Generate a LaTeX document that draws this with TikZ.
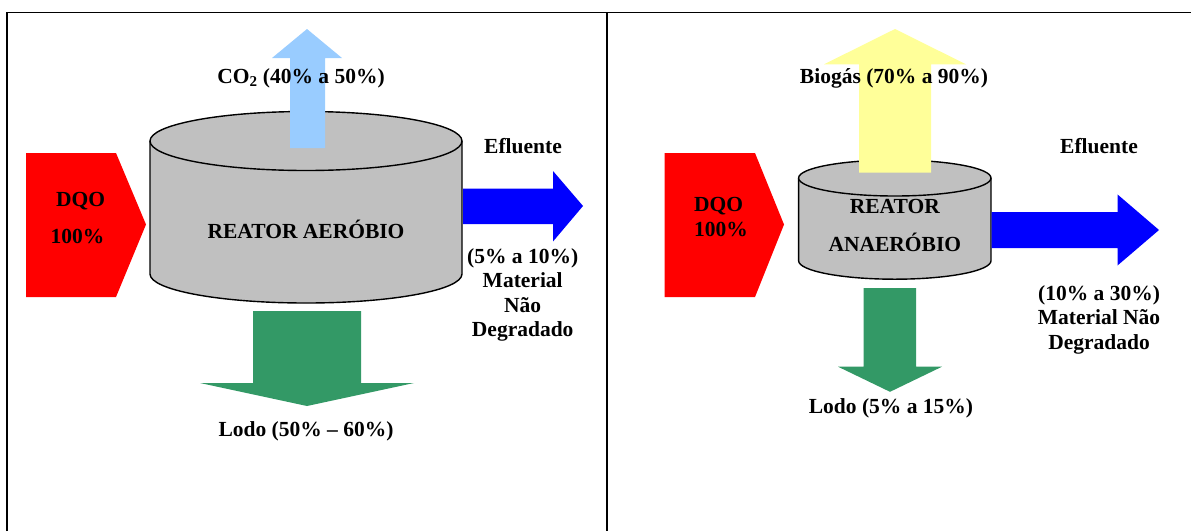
\documentclass[tikz,border=0pt]{standalone}
\usepackage{fontspec}
\setmainfont{Liberation Serif}
\definecolor{dqored}{HTML}{FF0000}
\definecolor{efblue}{HTML}{0000FF}
\definecolor{lodogreen}{HTML}{339966}
\definecolor{gasblue}{HTML}{99CCFF}
\definecolor{gasyellow}{HTML}{FFFF99}
\definecolor{tankgray}{HTML}{C0C0C0}
\tikzset{
  lbl/.style={font=\bfseries\fontsize{21.5}{24}\selectfont, anchor=base, inner sep=0pt, text=black},
  flow/.style={draw=none},
  tank/.style={draw=black, line width=1.4pt, fill=tankgray},
  frame/.style={draw=black, line width=1.5pt}
}
\begin{document}
\begin{tikzpicture}[x=1pt, y=-1pt]
\useasboundingbox (0,0) rectangle (1191,531);

% outer frame and panel divider
\draw[frame] (7,531) -- (7,12.5) -- (1191,12.5);
\draw[frame] (607,12.5) -- (607,531);

% ---------------- aerobic reactor ----------------
% inflow (DQO)
\fill[dqored] (26,153) -- (116,153) -- (146,224.5) -- (116,297) -- (26,297) -- cycle;
% tank body
\coordinate (tankA) at (306,141);
\fill[tankgray] (150,141) -- (150,274) arc[start angle=180, end angle=360, x radius=156pt, y radius=29pt] -- (462,141) -- cycle;
\draw[tank, fill=none] (150,141) -- (150,274) arc[start angle=180, end angle=360, x radius=156pt, y radius=29pt] -- (462,141);
\draw[tank] (tankA) ellipse[x radius=156pt, y radius=29.5pt];
% gas (CO2) outlet
\fill[gasblue] (290,148) -- (290,58) -- (272,58) -- (307,29) -- (342,58) -- (325,58) -- (325,148) -- cycle;
% effluent
\fill[efblue] (463,188.6) -- (553,188.6) -- (553,171) -- (583,206) -- (553,241.5) -- (553,224) -- (463,224) -- cycle;
% sludge
\fill[lodogreen] (253,311) -- (361,311) -- (361,383) -- (414,383) -- (307,406) -- (200,383) -- (253,383) -- cycle;

\node[lbl] (dqoA) at (80.5,206.5) {DQO};
\node[lbl] (pctA) at (77.5,243) {100\%};
\node[lbl] (reatA) at (306,238.7) {REATOR AERÓBIO};
\node[lbl] (co2) at (301,83.6) {CO\textsubscript{2} (40\% a 50\%)};
\node[lbl] (efA) at (523,153) {Efluente};
\node[lbl] (efA1) at (522.7,263.5) {(5\% a 10\%)};
\node[lbl] (efA2) at (522.7,287.5) {Material};
\node[lbl] (efA3) at (522.7,312) {Não};
\node[lbl] (efA4) at (522.7,336.5) {Degradado};
\node[lbl] (lodoA) at (306,436) {Lodo (50\% -- 60\%)};

% ---------------- anaerobic reactor ----------------
\fill[dqored] (664.5,153) -- (755,153) -- (784,224.5) -- (755,297) -- (664.5,297) -- cycle;
\coordinate (tankB) at (894.8,178);
\fill[tankgray] (798.6,178) -- (798.6,260.7) arc[start angle=180, end angle=360, x radius=96.2pt, y radius=18.5pt] -- (991,178) -- cycle;
\draw[tank, fill=none] (798.6,178) -- (798.6,260.7) arc[start angle=180, end angle=360, x radius=96.2pt, y radius=18.5pt] -- (991,178);
\draw[tank] (tankB) ellipse[x radius=96.2pt, y radius=18pt];
% biogas outlet
\fill[gasyellow] (859,172.7) -- (859,64.3) -- (824,64.3) -- (895,29) -- (966,64.3) -- (931,64.3) -- (931,172.7) -- cycle;
% effluent
\fill[efblue] (991.5,212) -- (1117.5,212) -- (1117.5,194.4) -- (1159,230) -- (1117.5,265.5) -- (1117.5,248) -- (991.5,248) -- cycle;
% sludge
\fill[lodogreen] (863.5,288) -- (916,288) -- (916,366.7) -- (942,366.7) -- (890,391.8) -- (838,366.7) -- (863.5,366.7) -- cycle;

\node[lbl] (dqoB) at (718.7,211) {DQO};
\node[lbl] (pctB) at (721,236.2) {100\%};
\node[lbl] (reatB1) at (894.8,213.3) {REATOR};
\node[lbl] (reatB2) at (894.8,251) {ANAERÓBIO};
\node[lbl] (biogas) at (894,83) {Biogás (70\% a 90\%)};
\node[lbl] (efB) at (1099,153) {Efluente};
\node[lbl] (efB1) at (1099,300.7) {(10\% a 30\%)};
\node[lbl] (efB2) at (1099,324.4) {Material Não};
\node[lbl] (efB3) at (1099,349.5) {Degradado};
\node[lbl] (lodoB) at (891,413) {Lodo (5\% a 15\%)};
\end{tikzpicture}
\end{document}
